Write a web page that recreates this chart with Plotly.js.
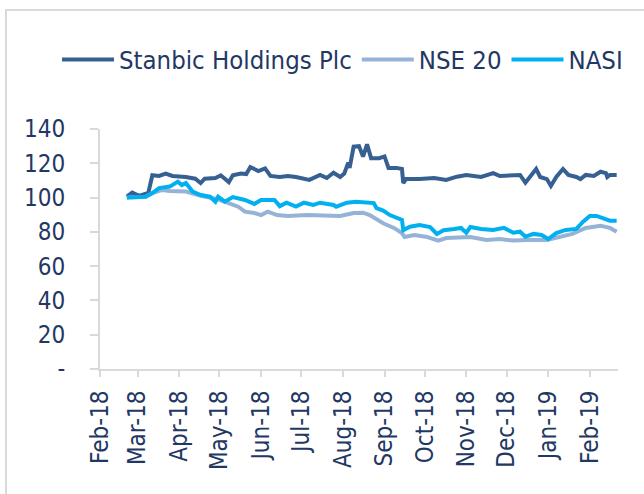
<!DOCTYPE html>
<html>
<head>
<meta charset="utf-8">
<script src="https://cdn.plot.ly/plotly-3.0.1.min.js"></script>
<style>
html,body{margin:0;padding:0;background:#fff;}
#wrap{position:relative;width:644px;height:494px;}
#chart{width:644px;height:494px;}
#frame{position:absolute;left:5px;top:9px;right:0;bottom:0;border-top:2px solid #D9D9D9;border-left:2px solid #D9D9D9;pointer-events:none;}
</style>
</head>
<body>
<div id="wrap"><div id="chart"></div><div id="frame"></div></div>
<script>
// Stanbic Holdings Plc (rebased to 100)
const stanbicDates = ["2018-02-21","2018-02-25","2018-03-02","2018-03-09","2018-03-12","2018-03-17","2018-03-22","2018-03-27","2018-04-06","2018-04-13","2018-04-17","2018-04-20","2018-04-28","2018-05-02","2018-05-08","2018-05-11","2018-05-17","2018-05-21","2018-05-24","2018-05-30","2018-06-04","2018-06-08","2018-06-15","2018-06-21","2018-06-27","2018-07-07","2018-07-15","2018-07-20","2018-07-25","2018-07-30","2018-08-02","2018-08-05","2018-08-06","2018-08-09","2018-08-13","2018-08-16","2018-08-19","2018-08-22","2018-08-28","2018-09-01","2018-09-04","2018-09-10","2018-09-14","2018-09-15","2018-09-17","2018-09-27","2018-10-08","2018-10-17","2018-10-25","2018-11-01","2018-11-12","2018-11-21","2018-11-26","2018-12-11","2018-12-15","2018-12-19","2018-12-23","2018-12-26","2018-12-31","2019-01-03","2019-01-07","2019-01-12","2019-01-16","2019-01-22","2019-01-25","2019-01-29","2019-02-04","2019-02-09","2019-02-13","2019-02-14","2019-02-16","2019-02-21"];
const stanbicValues = [100.5,102.9,101,102.7,113,112.6,114,112.6,112,111,108.5,111,111.4,113,109,113,114,113.7,117.8,115.5,117,112.6,112,112.6,112,110.3,113.2,111.4,114.5,112,114,120.4,117.3,129.7,130,123.9,131,123,123,124,117.3,117.3,116.7,108.5,110.8,110.8,111.4,110.3,112.2,113.2,112,114.3,112.6,113.2,108.7,113.2,116.7,112,110.8,106.8,112,116.7,113.2,112,110.8,113.2,112.6,115.1,114.3,112,113.2,113.2];

// NSE 20 (rebased to 100)
const nse20Dates = ["2018-02-21","2018-03-02","2018-03-07","2018-03-12","2018-03-19","2018-03-25","2018-04-06","2018-04-10","2018-04-17","2018-04-30","2018-05-08","2018-05-15","2018-05-20","2018-05-27","2018-06-01","2018-06-06","2018-06-13","2018-06-21","2018-07-05","2018-07-15","2018-07-30","2018-08-09","2018-08-16","2018-08-21","2018-08-31","2018-09-08","2018-09-14","2018-09-16","2018-09-23","2018-10-02","2018-10-11","2018-10-17","2018-10-24","2018-11-04","2018-11-16","2018-11-26","2018-12-06","2018-12-16","2018-12-31","2019-01-10","2019-01-19","2019-01-29","2019-02-09","2019-02-16","2019-02-21"];
const nse20Values = [100,100,100.5,102.6,104.4,103.9,103.5,102.6,101,99,96.8,94.7,91.8,91,89.8,91.8,89.8,89.3,89.8,89.8,89.3,91,91.2,89.8,85,82.3,79.3,77,78.2,77.2,74.9,76.4,76.8,77,75.3,75.8,74.9,75.3,75.3,77.2,78.8,82.3,83.6,82.3,80.1];

// NASI (rebased to 100)
const nasiDates = ["2018-02-21","2018-03-02","2018-03-07","2018-03-12","2018-03-17","2018-03-25","2018-03-31","2018-04-03","2018-04-06","2018-04-11","2018-04-17","2018-04-24","2018-04-28","2018-04-30","2018-05-05","2018-05-11","2018-05-20","2018-05-27","2018-06-01","2018-06-11","2018-06-15","2018-06-20","2018-06-27","2018-07-03","2018-07-10","2018-07-15","2018-07-25","2018-07-27","2018-08-04","2018-08-11","2018-08-18","2018-08-24","2018-08-26","2018-08-31","2018-09-05","2018-09-10","2018-09-14","2018-09-15","2018-09-20","2018-09-27","2018-10-05","2018-10-10","2018-10-15","2018-10-23","2018-10-28","2018-11-01","2018-11-04","2018-11-12","2018-11-21","2018-11-29","2018-12-06","2018-12-11","2018-12-15","2018-12-21","2018-12-27","2019-01-01","2019-01-07","2019-01-14","2019-01-22","2019-01-27","2019-02-01","2019-02-06","2019-02-11","2019-02-16","2019-02-21"];
const nasiValues = [100,100,100.5,102.6,105.5,106.4,109.3,107.3,108.5,103.5,101.5,100.5,97.6,100.5,97.6,100.3,98.6,96.3,98.6,98.6,95,97,94.7,97,95.7,97,95.7,94.7,97,97.6,97,96.8,93.9,92.4,89.8,88,87,81,83,84,82.8,78.8,81,81.7,82.3,79.5,82.8,81.7,81.1,82.3,79.5,80.1,77.2,78.8,78.2,75.8,79.3,81.1,81.7,85.9,89.3,89.3,88,86.5,86.5];

const yTickVals = [0,20,40,60,80,100,120,140];
const yTickText = ["-","20","40","60","80","100","120","140"];

const FONT = "'Liberation Sans Narrow','Arial Narrow','DejaVu Sans Condensed',sans-serif";
const NAVY = "#1F3864";

const traces = [
  {x: stanbicDates, y: stanbicValues, name: "Stanbic Holdings Plc", type: "scatter", mode: "lines", line: {color: "#366092", width: 4}},
  {x: nse20Dates, y: nse20Values, name: "NSE 20", type: "scatter", mode: "lines", line: {color: "#95B3D7", width: 4}},
  {x: nasiDates, y: nasiValues, name: "NASI", type: "scatter", mode: "lines", line: {color: "#00B0F0", width: 4}}
];

const layout = {
  width: 644, height: 494,
  margin: {l: 100, r: 26, t: 129, b: 125},
  paper_bgcolor: "#fff", plot_bgcolor: "#fff",
  font: {family: FONT, size: 24, color: NAVY},
  showlegend: true,
  legend: {orientation: "h", x: -0.083, xanchor: "left", y: 1.288, yanchor: "middle", font: {family: FONT, size: 25.5, color: NAVY}, itemwidth: 52, tracegroupgap: 0},
  xaxis: {
    type: "date", range: ["2018-02-01", "2019-02-22"],
    tick0: "2018-02-01", dtick: "M1", tickformat: "%b-%y", tickangle: -90,
    ticks: "outside", ticklen: 6, tickcolor: "#D9D9D9", tickwidth: 2,
    showline: true, linecolor: "#D9D9D9", linewidth: 2, showgrid: false, zeroline: false,
    tickfont: {family: FONT, size: 24, color: NAVY}, ticklabelstandoff: 4
  },
  yaxis: {
    range: [0, 140], tickvals: yTickVals, ticktext: yTickText,
    ticks: "outside", ticklen: 8, tickcolor: "#D9D9D9", tickwidth: 2,
    showline: true, linecolor: "#D9D9D9", linewidth: 2, showgrid: false, zeroline: false,
    tickfont: {family: FONT, size: 24, color: NAVY},
    ticklabelposition: "outside", ticklabelstandoff: 20
  }
};

Plotly.newPlot("chart", traces, layout, {displayModeBar: false, staticPlot: true});
</script>
</body>
</html>
